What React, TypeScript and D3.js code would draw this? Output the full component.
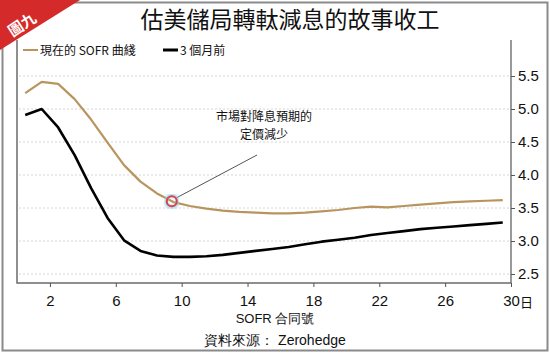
import * as d3 from 'd3';
import React, { useEffect, useRef } from 'react';

// contract month index (days label on x axis)
const days = d3.range(0.5, 30, 1);
// current SOFR curve
const nowCurve = [
  5.24, 5.41, 5.38, 5.15, 4.84, 4.49, 4.15, 3.9, 3.72, 3.59,
  3.53, 3.49, 3.46, 3.44, 3.43, 3.42, 3.42, 3.43, 3.45, 3.47,
  3.5, 3.52, 3.51, 3.53, 3.55, 3.57, 3.59, 3.6, 3.61, 3.62,
];
// 3 months ago
const agoCurve = [
  4.91, 5.0, 4.72, 4.3, 3.8, 3.35, 3.01, 2.85, 2.78, 2.76,
  2.76, 2.77, 2.79, 2.82, 2.85, 2.88, 2.91, 2.95, 2.99, 3.02,
  3.05, 3.09, 3.12, 3.15, 3.18, 3.2, 3.22, 3.24, 3.26, 3.28,
];
const xTicks = [2, 6, 10, 14, 18, 22, 26, 30];
const yTicks = [2.5, 3.0, 3.5, 4.0, 4.5, 5.0, 5.5];
const title = '估美儲局轉軚減息的故事收工';
const legendNames = ['現在的 SOFR 曲綫', '3 個月前'];
const note = ['市場對降息預期的', '定價減少'];
const noteDay = 9.4;

const W = 550;
const H = 354;
const cjk = "'Noto Sans CJK TC', 'Noto Sans', sans-serif";
const narrow = "'Liberation Sans Narrow', 'Liberation Sans', Arial, sans-serif";
const gold = '#b8955e';

const App = () => {
  const ref = useRef(null);

  useEffect(() => {
    const svg = d3.select(ref.current);
    svg.selectAll('*').remove();

    const left = 17, right = 511, top = 40, bottom = 283;

    const x = d3.scaleLinear().domain([0, 30]).range([left, right]);
    const y = d3.scaleLinear().domain([2.5, 5.5]).range([274, 76]);

    const defs = svg.append('defs');
    defs.append('filter').attr('id', 'glow')
      .append('feGaussianBlur').attr('stdDeviation', 1.4);

    svg.append('rect').attr('width', W).attr('height', H).attr('fill', '#fff');

    // outer frame
    svg.append('rect')
      .attr('x', 2.5).attr('y', 2.5).attr('width', W - 5).attr('height', H - 6)
      .attr('fill', 'none').attr('stroke', '#8a8a8a').attr('stroke-width', 2);

    // red corner tag
    svg.append('path').attr('d', 'M0,0 L80,0 L0,50 Z').attr('fill', '#d42a2a');
    svg.append('text')
      .attr('transform', 'translate(25,29) rotate(-33)')
      .attr('text-anchor', 'middle')
      .attr('font-family', cjk).attr('font-size', 15).attr('font-weight', 'bold')
      .attr('fill', '#fff').text('圖九');

    // title
    svg.append('text')
      .attr('x', 290).attr('y', 28).attr('text-anchor', 'middle')
      .attr('font-family', cjk).attr('font-size', 23).attr('fill', '#111')
      .text(title);

    // grid
    svg.append('g').selectAll('line').data(yTicks).join('line')
      .attr('x1', left + 2).attr('x2', right - 2)
      .attr('y1', d => y(d)).attr('y2', d => y(d))
      .attr('stroke', '#d6d6d6').attr('stroke-width', 1).attr('stroke-dasharray', '2,2');

    // plot frame: left, bottom
    svg.append('path')
      .attr('d', `M${left},${top} V${bottom} H${right}`)
      .attr('fill', 'none').attr('stroke', '#6b6b6b').attr('stroke-width', 1.5);

    // right axis
    const yAxis = svg.append('g')
      .attr('transform', `translate(${right},0)`)
      .call(d3.axisRight(y).tickValues(yTicks).tickFormat(d3.format('.1f')).tickSize(4).tickSizeOuter(0));
    yAxis.select('.domain').remove();
    yAxis.append('line').attr('y1', top).attr('y2', bottom).attr('stroke', '#555').attr('stroke-width', 1.2);
    yAxis.selectAll('.tick line').attr('stroke', '#555');
    yAxis.selectAll('text').attr('font-family', narrow).attr('font-size', 15).attr('fill', '#111').attr('x', 7);

    // bottom axis
    const xAxis = svg.append('g')
      .attr('transform', `translate(0,${bottom})`)
      .call(d3.axisBottom(x).tickValues(xTicks).tickSize(4).tickSizeOuter(0));
    xAxis.select('.domain').remove();
    xAxis.selectAll('.tick line').attr('stroke', '#555');
    xAxis.selectAll('text').attr('font-family', narrow).attr('font-size', 15).attr('fill', '#111').attr('dy', '1.05em');
    svg.append('text').attr('x', right + 9).attr('y', 307)
      .attr('font-family', cjk).attr('font-size', 13).attr('fill', '#111').text('日');

    svg.append('text').attr('x', 275).attr('y', 323).attr('text-anchor', 'middle')
      .attr('font-family', narrow).attr('font-size', 13).attr('fill', '#111')
      .text('SOFR 合同號');
    svg.append('text').attr('x', 275).attr('y', 345).attr('text-anchor', 'middle')
      .attr('font-family', narrow).attr('font-size', 14).attr('fill', '#111')
      .text('資料來源： Zerohedge');

    // lines
    const line = d3.line<number>()
      .x((d, i) => x(days[i]))
      .y(d => y(d));
    svg.append('path').datum(agoCurve).attr('d', line)
      .attr('fill', 'none').attr('stroke', '#000').attr('stroke-width', 2.6).attr('stroke-linejoin', 'round');
    svg.append('path').datum(nowCurve).attr('d', line)
      .attr('fill', 'none').attr('stroke', gold).attr('stroke-width', 2.2).attr('stroke-linejoin', 'round');

    // legend
    const lg = svg.append('g').attr('transform', 'translate(23,50)');
    const items = [
      { name: legendNames[0], color: gold, x: 0, w: 2 },
      { name: legendNames[1], color: '#000', x: 140, w: 3 },
    ];
    items.forEach(it => {
      lg.append('line').attr('x1', it.x).attr('x2', it.x + 15).attr('y1', 0).attr('y2', 0)
        .attr('stroke', it.color).attr('stroke-width', it.w);
      lg.append('text').attr('x', it.x + 17).attr('y', 4.5)
        .attr('font-family', cjk).attr('font-size', 12).attr('fill', '#111').text(it.name);
    });

    // annotation
    const idx = days.findIndex(d => d >= noteDay);
    const t = (noteDay - days[idx - 1]) / (days[idx] - days[idx - 1]);
    const cv = nowCurve[idx - 1] + t * (nowCurve[idx] - nowCurve[idx - 1]);
    const cx = x(noteDay), cy = y(cv);
    svg.append('line').attr('x1', cx + 4).attr('y1', cy - 3).attr('x2', 257).attr('y2', 155)
      .attr('stroke', '#555').attr('stroke-width', 1);
    svg.append('circle').attr('cx', cx).attr('cy', cy).attr('r', 6)
      .attr('fill', 'none').attr('stroke', '#8fd3ea').attr('stroke-width', 3)
      .attr('filter', 'url(#glow)');
    svg.append('circle').attr('cx', cx).attr('cy', cy).attr('r', 5)
      .attr('fill', 'none').attr('stroke', '#e0404a').attr('stroke-width', 2);
    svg.append('g').selectAll('text').data(note).join('text')
      .attr('x', 264).attr('y', (d, i) => 121 + i * 18).attr('text-anchor', 'middle')
      .attr('font-family', cjk).attr('font-size', 12).attr('fill', '#111')
      .text(d => d);
  }, []);

  return (
    <div style={{ position: 'absolute', left: 0, top: 0 }}>
      <svg ref={ref} width={W} height={H} style={{ display: 'block' }}></svg>
    </div>
  );
};

export default App;
